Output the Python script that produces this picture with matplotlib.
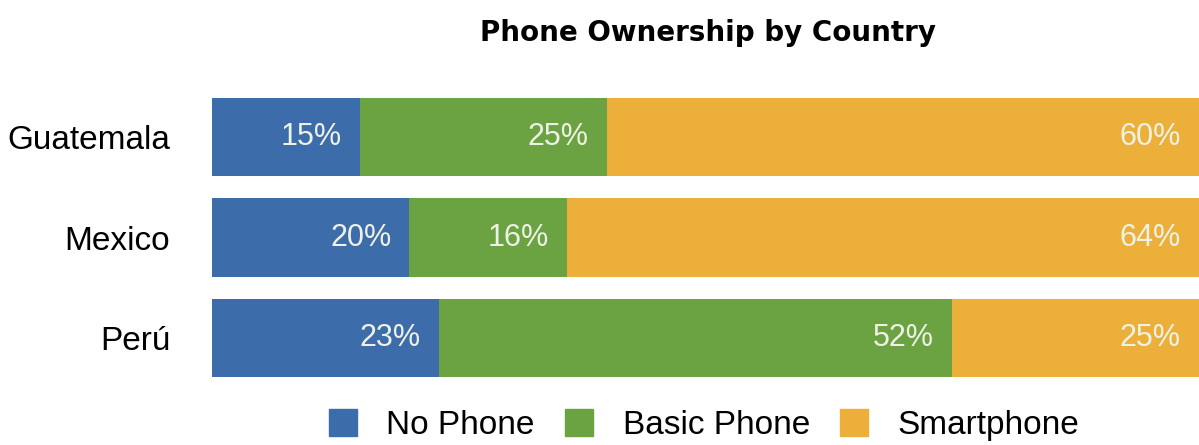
import matplotlib
matplotlib.use("Agg")
import matplotlib.pyplot as plt
from matplotlib.patches import Patch

countries = ["Guatemala", "Mexico", "Perú"]
series_names = ["No Phone", "Basic Phone", "Smartphone"]
no_phone = [15, 20, 23]
basic_phone = [25, 16, 52]
smartphone = [60, 64, 25]
colors = ["#3d6cab", "#6ba343", "#ecb03a"]

plt.rcParams['font.family'] = ['Liberation Sans', 'DejaVu Sans']

fig = plt.figure(figsize=(11.99, 4.45), dpi=100)
ax = fig.add_axes([212/1199, 1-388/445, (1199-212)/1199, (388-87)/445])

series = [no_phone, basic_phone, smartphone]
y = list(range(len(countries)))
left = [0]*len(countries)
for vals, name, c in zip(series, series_names, colors):
    ax.barh(y, vals, left=left, height=0.78, color=c, label=name)
    for yi, l, v in zip(y, left, vals):
        ax.annotate(f"{v}%", xy=(l+v, yi), xytext=(-13, 0), textcoords="offset points",
                    ha="right", va="center", fontsize=22, color="#eef2e4")
    left = [a+b for a, b in zip(left, vals)]

ax.set_xlim(0, 100)
ax.set_ylim(2.5, -0.5)
ax.set_yticks(y)
ax.set_yticklabels(countries, fontsize=24)
ax.tick_params(axis='y', length=0, pad=30)
ax.set_xticks([])
for s in ax.spines.values():
    s.set_visible(False)

fig.text(708/1199, 1-33/445, "Phone Ownership by Country", ha="center", va="center",
         fontsize=20, fontweight="bold", family=["DejaVu Sans"])

handles = [Patch(color=c, label=n) for c, n in zip(colors, series_names)]
fig.legend(handles=handles, loc="center", bbox_to_anchor=(704/1199, 1-425/445), ncol=3,
           frameon=False, fontsize=24, handlelength=0.85, handleheight=0.85,
           columnspacing=0.9, handletextpad=0.88, borderpad=0, borderaxespad=0)

fig.savefig("out.png", dpi=100)
